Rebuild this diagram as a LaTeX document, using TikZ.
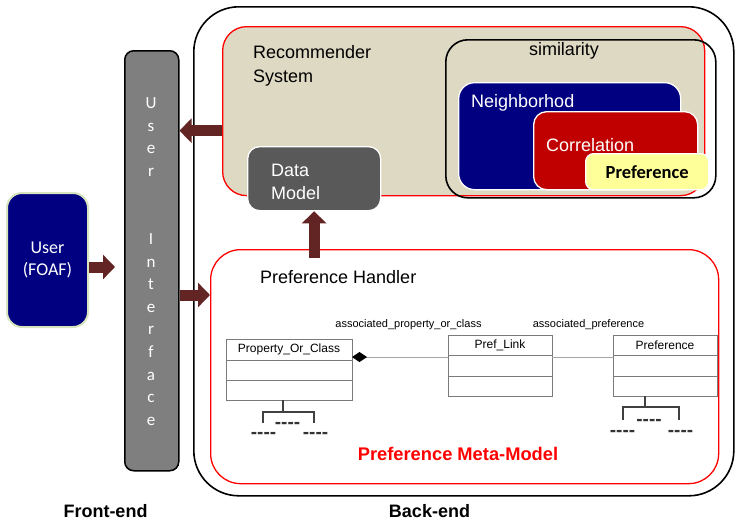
\documentclass[tikz,border=0pt]{standalone}
\usepackage{fontspec}
\setmainfont{Liberation Sans}
\newfontfamily\calfont{Carlito}
\usetikzlibrary{positioning,arrows.meta,calc}
\definecolor{tan}{HTML}{DDD9C3}
\definecolor{navy}{HTML}{000080}
\definecolor{darkred}{HTML}{C00000}
\definecolor{paleyellow}{HTML}{FFFF99}
\definecolor{datagray}{HTML}{595959}
\definecolor{uigray}{HTML}{7F7F7F}
\definecolor{arrowbrown}{HTML}{632523}
\definecolor{foafgreen}{HTML}{D7E4BD}
\definecolor{umlgray}{HTML}{7A7A7A}
\begin{document}
\begin{tikzpicture}[x=1pt,y=-1pt,
  area/.style={anchor=north west,inner sep=0pt,rounded corners=#1},
  frame/.style={area=#1,draw=black,line width=1.6pt},
  redframe/.style={area=#1,draw=red,line width=1.3pt},
  panel/.style={area=#1,draw=white,line width=1.3pt},
  label/.style={inner sep=0pt,font=\fontsize{18}{24}\selectfont},
  blockarrow/.style={draw=arrowbrown,line width=11pt,-{Triangle[length=12pt,width=24pt]}},
  umlbox/.style={draw=umlgray,line width=0.8pt,inner sep=0pt,outer sep=0pt,font=\fontsize{12}{12}\selectfont},
  assoc/.style={draw=gray!70,line width=0.9pt},
  tree/.style={draw=black!75,line width=1.4pt},
  dashes/.style={inner sep=0pt,anchor=base,text=black!80,font=\fontsize{19}{19}\selectfont\bfseries},
  uiletter/.style={inner sep=0pt,anchor=base,text=white,font=\calfont\fontsize{17}{17}\selectfont},
  endlabel/.style={inner sep=0pt,anchor=base,font=\fontsize{18}{18}\selectfont\bfseries}]
\useasboundingbox (0,0) rectangle (735,520);

% back-end
\node[frame=45pt,minimum width=540pt,minimum height=489pt] (backend) at (193,6) {};
\node[redframe=24pt,fill=tan,minimum width=482pt,minimum height=169pt] (rec) at (222,26) {};
\node[label,anchor=north west,align=left] (rectext) at (253,45.5) {Recommender\\System};
\node[frame=22pt,minimum width=270pt,minimum height=158pt] (sim) at (445,39) {};
\node[label,anchor=base] (simtext) at (564,55) {similarity};

\node[panel=16pt,fill=navy,minimum width=222pt,minimum height=107pt] (neigh) at (458,82) {};
\node[label,anchor=base west,text=white] (neightext) at (471,107.5) {Neighborhod};
\node[panel=13pt,fill=darkred,minimum width=164pt,minimum height=78pt] (corr) at (533,111) {};
\node[label,anchor=base west,text=white] (corrtext) at (546,151.5) {Correlation};
\node[panel=8pt,fill=paleyellow,minimum width=123pt,minimum height=36pt] (prefbox) at (585,153) {};
\node[inner sep=0pt,font=\calfont\fontsize{18.5}{18.5}\selectfont\bfseries] (preftext) at (prefbox.center) {Preference};

\node[panel=12pt,fill=datagray,minimum width=133pt,minimum height=64pt] (data) at (247,146) {};
\node[label,anchor=north west,align=left,text=white,font=\fontsize{18}{23.5}\selectfont] (datatext) at (271,163.5) {Data\\Model};

\node[redframe=30pt,fill=white,minimum width=508pt,minimum height=234pt] (handler) at (210,249) {};
\node[label,anchor=base west] (handlertext) at (260,283) {Preference Handler};

% meta-model
\node[inner sep=0pt,anchor=base,font=\fontsize{11}{11}\selectfont] (lbl1) at (408.5,327.5) {associated\_property\_or\_class};
\node[inner sep=0pt,anchor=base,font=\fontsize{11}{11}\selectfont] (lbl2) at (588.5,327.5) {associated\_preference};

\node[umlbox,anchor=north west,minimum width=126pt,minimum height=21pt] (pochead) at (226,339) {Property\_Or\_Class};
\node[umlbox,minimum width=126pt,minimum height=20pt,below=0pt of pochead] (poc1) {};
\node[umlbox,minimum width=126pt,minimum height=20pt,below=0pt of poc1] (poc2) {};

\node[umlbox,anchor=north west,minimum width=104pt,minimum height=20pt] (plhead) at (448,335) {Pref\_Link};
\node[umlbox,minimum width=104pt,minimum height=21pt,below=0pt of plhead] (pl1) {};
\node[umlbox,minimum width=104pt,minimum height=20pt,below=0pt of pl1] (pl2) {};

\node[umlbox,anchor=north west,minimum width=104pt,minimum height=20pt] (prhead) at (613,335) {Preference};
\node[umlbox,minimum width=104pt,minimum height=21pt,below=0pt of prhead] (pr1) {};
\node[umlbox,minimum width=104pt,minimum height=20pt,below=0pt of pr1] (pr2) {};

\coordinate (assocy) at (0,357);
\draw[assoc,{Diamond[length=15pt,width=10pt,fill=black,color=black]}-] (pochead.east |- assocy) -- (plhead.west |- assocy);
\draw[assoc] (plhead.east |- assocy) -- (prhead.west |- assocy);

\draw[tree] ([xshift=-6pt]poc2.south) -- ++(0,12);
\draw[tree] (263,423) -- (263,412) -- (314,412) -- (314,423);
\node[dashes] (pocd1) at (287.5,428) {-{}-{}-{}-};
\node[dashes] (pocd2) at (263.5,438) {-{}-{}-{}-};
\node[dashes] (pocd3) at (315.5,438) {-{}-{}-{}-};

\draw[tree] ([xshift=-20pt]pr2.south) -- ++(0,11);
\draw[tree] (623,420) -- (623,407) -- (679,407) -- (679,420);
\node[dashes] (prd1) at (649,425) {-{}-{}-{}-};
\node[dashes] (prd2) at (622.5,436) {-{}-{}-{}-};
\node[dashes] (prd3) at (680.5,436) {-{}-{}-{}-};

\node[inner sep=0pt,anchor=base,text=red,font=\fontsize{18.3}{18.3}\selectfont\bfseries] (metatext) at (458,460) {Preference Meta-Model};

% front-end
\node[area=9pt,draw=black,line width=1.5pt,fill=uigray,minimum width=54pt,minimum height=420pt] (ui) at (124,50) {};
\foreach \c [count=\i] in {U,s,e,r}
  \node[uiletter] (ua\i) at (151,108.5+22.6*\i-22.6) {\c};
\foreach \c [count=\i] in {I,n,t,e,r,f,a,c,e}
  \node[uiletter] (ub\i) at (151,244.5+22.6*\i-22.6) {\c};

\node[area=15pt,draw=foafgreen,line width=2pt,fill=navy,minimum width=81pt,minimum height=134pt] (user) at (6,192) {};
\node[inner sep=0pt,align=center,text=white,font=\calfont\fontsize{18}{22}\selectfont] (usertext) at (user.center) {User\\(FOAF)};

% arrows
\coordinate (a1) at ($(user.east)+(0,7)$);
\coordinate (a1e) at ($(ui.west |- a1)+(-9,0)$);
\draw[blockarrow] (a1) -- (a1e);
\coordinate (a2) at ($(handler.north west)+(0,46)$);
\draw[blockarrow] (ui.east |- a2) -- (a2);
\coordinate (a3) at ($(rec.west)+(0,19.5)$);
\draw[blockarrow] (a3) -- (a3 -| ui.east);
\coordinate (a4) at ($(data.south |- handler.north)+(0,9)$);
\draw[blockarrow] (a4) -- (data.south);

\node[endlabel] (frontend) at (105.5,517) {Front-end};
\node[endlabel] (backendtext) at (429.5,517) {Back-end};
\end{tikzpicture}
\end{document}
